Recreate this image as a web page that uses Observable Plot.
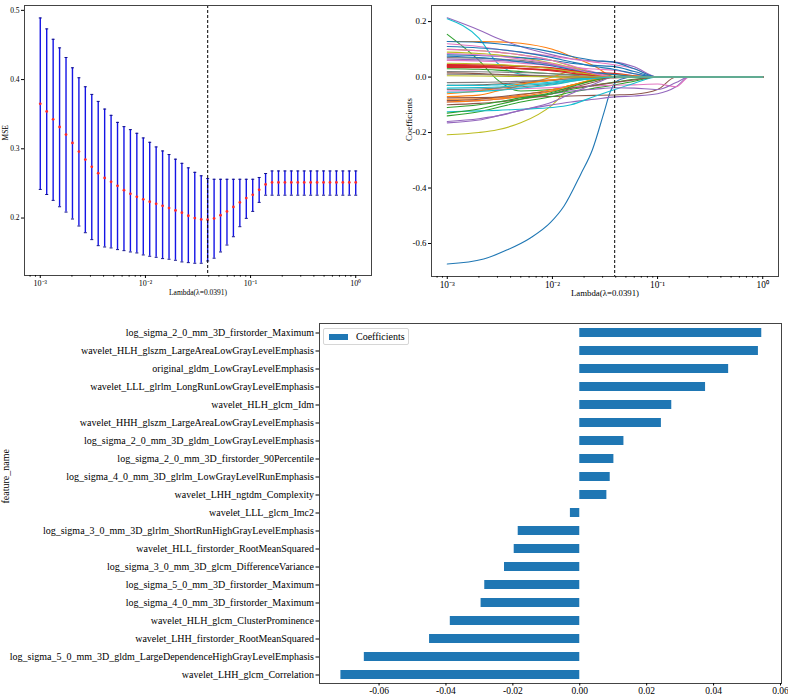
<!DOCTYPE html>
<html><head><meta charset="utf-8">
<script src="https://cdn.jsdelivr.net/npm/d3@7"></script>
<script src="https://cdn.jsdelivr.net/npm/@observablehq/plot@0.6"></script>
<style>
body{margin:0;background:#fff;}
#root{position:relative;width:788px;height:697px;overflow:hidden;background:#fff;font-family:"Liberation Serif","Times New Roman",serif;}
.panel{position:absolute;}
#root svg, #root svg text{font-family:"Liberation Serif","Times New Roman",serif !important;}
#p1 svg{font-size:7.5px !important;}
#p2 svg{font-size:8.8px !important;}
#p3 svg{font-size:10px !important;}
#legend{position:absolute;left:323px;top:328px;width:86px;height:17px;border:1px solid #d6d6d6;border-radius:2px;background:#fff;box-sizing:border-box;font-size:10px;color:#000;}
#legend .sw{position:absolute;left:5px;top:4.5px;width:19px;height:6.5px;background:#1f77b4;}
#legend .lb{position:absolute;left:32px;top:1px;line-height:13px;white-space:nowrap;}
</style></head>
<body><div id="root">
<div class="panel" id="p1" style="left:0;top:0"></div>
<div class="panel" id="p2" style="left:390px;top:0"></div>
<div class="panel" id="p3" style="left:0;top:305px"></div>
<div id="legend"><span class="sw"></span><span class="lb">Coefficients</span></div>
</div>
<script>
// ---------- Panel 1: cross-validated MSE ----------
const lambdas = [0.001,0.0011514,0.0013257,0.0015264,0.0017575,0.0020236,0.00233,0.0026827,0.0030888,0.0035565,
0.0040949,0.0047149,0.0054287,0.0062506,0.0071969,0.0082864,0.009541,0.010985,0.012649,0.014563,
0.016768,0.019307,0.02223,0.025595,0.029471,0.033932,0.039069,0.044984,0.051795,0.059636,
0.068665,0.07906,0.09103,0.10481,0.12068,0.13895,0.15999,0.18421,0.2121,0.24421,
0.28118,0.32375,0.37276,0.42919,0.49417,0.56899,0.65513,0.75431,0.86851,1];
const mseMean = [0.365,0.354,0.3426,0.3315,0.3205,0.3085,0.296,0.2845,0.274,0.2648,
0.258,0.2523,0.2465,0.2403,0.235,0.2307,0.227,0.2235,0.2206,0.2177,
0.2144,0.211,0.2077,0.2033,0.2,0.198,0.1976,0.1995,0.204,0.2096,
0.216,0.2226,0.2288,0.2336,0.2408,0.2485,0.2514,0.2514,0.2514,0.2514,
0.2514,0.2514,0.2514,0.2514,0.2514,0.2514,0.2514,0.2514,0.2514,0.2514];
const mseUpper = [0.489,0.4732,0.4582,0.4458,0.4319,0.417,0.4026,0.3896,0.3786,0.3685,
0.3574,0.3483,0.3382,0.332,0.3277,0.3224,0.3157,0.3094,0.3027,0.2969,
0.2917,0.285,0.279,0.2725,0.266,0.261,0.257,0.256,0.256,0.256,
0.256,0.256,0.256,0.256,0.2586,0.2643,0.268,0.268,0.268,0.268,
0.268,0.268,0.268,0.268,0.268,0.268,0.268,0.268,0.268,0.268];
const mseLower = [0.2413,0.234,0.2255,0.2163,0.2086,0.1986,0.1885,0.1788,0.1688,0.1601,
0.1582,0.1568,0.1544,0.1529,0.151,0.1496,0.1467,0.1448,0.1433,0.1414,
0.1405,0.139,0.1366,0.1356,0.1347,0.1347,0.138,0.142,0.151,0.161,
0.173,0.1875,0.1995,0.2096,0.2226,0.233,0.233,0.233,0.233,0.233,
0.233,0.233,0.233,0.233,0.233,0.233,0.233,0.233,0.233,0.233];
const bestLambda = 0.0391;
const lambdaLabel = "Lambda(λ=0.0391)";

// ---------- Panel 2: coefficient paths ----------
const pathLambda = [0.001,0.002,0.003,0.005,0.01,0.015,0.025,0.0391,0.06,0.1,0.15,0.2,1];
const bigPathLambda = [0.001,0.00222,0.00372,0.00617,0.00955,0.0129,0.0186,0.024,0.0309,0.0355,0.0391,0.0447,0.06,1];
const bigPathCoef = [-0.674,-0.656,-0.623,-0.58,-0.525,-0.465,-0.35,-0.262,-0.128,-0.053,-0.0225,-0.008,0,0];
const pathCoefs = [
[0.128,0.128,0.127,0.122,0.1,0.075,0.04,0,0,0,0,0,0],
[0.154,0.06,-0.01,-0.05,-0.045,-0.03,-0.01,0,0,0,0,0,0],
[0.042,0.041,0.04,0.038,0.032,0.024,0.01,0,0,0,0,0,0],
[0.214,0.17,0.14,0.11,0.08,0.066,0.058,0.054,0.037,0,0,0,0],
[-0.075,-0.074,-0.073,-0.072,-0.07,-0.068,-0.066,-0.0644,-0.062,-0.045,0,0,0],
[0.12,0.11,0.1,0.09,0.075,0.065,0.054,0.0445,0.03,0,0,0,0],
[0.07,0.068,0.065,0.06,0.045,0.03,0.012,0,0,0,0,0,0],
[-0.208,-0.2,-0.19,-0.165,-0.1,-0.035,-0.008,0,0,0,0,0,0],
[0.21,0.14,0.05,0.01,0,0,0,0,0,0,0,0,0],
[0.128,0.125,0.12,0.11,0.09,0.075,0.06,0.053,0.03,0,0,0,0],
[-0.08,-0.078,-0.075,-0.065,-0.045,-0.03,-0.012,0,0,0,0,0,0],
[-0.14,-0.125,-0.11,-0.09,-0.07,-0.055,-0.04,-0.0284,-0.015,0,0,0,0],
[0.04,0.038,0.036,0.032,0.025,0.02,0.016,0.0132,0.005,0,0,0,0],
[-0.165,-0.155,-0.14,-0.12,-0.1,-0.09,-0.08,-0.0714,-0.068,-0.06,-0.035,0,0],
[-0.1,-0.095,-0.09,-0.08,-0.06,-0.04,-0.018,0,0,0,0,0,0],
[-0.05,-0.048,-0.045,-0.042,-0.038,-0.035,-0.032,-0.0295,-0.028,-0.025,-0.035,0,0],
[0.01,0.009,0.008,0.007,0.005,0.003,0.001,0,0,0,0,0,0],
[0.09,0.085,0.08,0.07,0.05,0.035,0.015,0,0,0,0,0,0],
[-0.125,-0.122,-0.12,-0.116,-0.11,-0.1,-0.07,-0.0449,-0.022,0,0,0,0],
[0.08,0.078,0.075,0.07,0.06,0.05,0.042,0.0376,0.02,0,0,0,0],
[-0.07,-0.065,-0.05,-0.03,0,0.02,0.015,0,0,0,0,0,0],
[0.03,0.028,0.025,0.02,0.012,0.01,0.009,0.0081,0.003,0,0,0,0],
[0.035,0.034,0.033,0.03,0.025,0.018,0.008,0,0,0,0,0,0],
[-0.09,-0.085,-0.08,-0.07,-0.06,-0.05,-0.044,-0.0387,-0.04,-0.045,-0.02,0,0],
[-0.03,-0.028,-0.025,-0.02,-0.012,-0.006,-0.002,0,0,0,0,0,0],
[0.06,0.058,0.055,0.05,0.042,0.035,0.029,0.0244,0.012,0,0,0,0],
[-0.02,-0.019,-0.018,-0.015,-0.01,-0.006,-0.002,0,0,0,0,0,0],
[0.1,0.095,0.09,0.08,0.06,0.04,0.015,0,0,0,0,0,0],
[-0.03,-0.03,-0.028,-0.025,-0.018,-0.01,-0.003,0,0,0,0,0,0],
[0.11,0.105,0.1,0.09,0.07,0.055,0.038,0.0275,0.012,0,0,0,0],
[-0.06,-0.05,-0.04,-0.025,-0.01,0,0.006,0.0102,0.004,0,0,0,0],
[-0.11,-0.1,-0.09,-0.075,-0.06,-0.045,-0.03,-0.0184,-0.008,0,0,0,0],
[0.045,0.044,0.043,0.04,0.033,0.025,0.012,0,0,0,0,0,0],
[0.065,0.062,0.06,0.055,0.045,0.032,0.014,0,0,0,0,0,0],
[-0.085,-0.08,-0.072,-0.062,-0.05,-0.04,-0.03,-0.0196,-0.01,0,0,0,0],
[0.1,0.095,0.09,0.08,0.06,0.042,0.018,0,0,0,0,0,0],
[-0.045,-0.043,-0.04,-0.035,-0.025,-0.015,-0.005,0,0,0,0,0,0],
[0.05,0.048,0.045,0.04,0.03,0.02,0.008,0,0,0,0,0,0],
[-0.04,-0.038,-0.036,-0.03,-0.022,-0.012,-0.004,0,0,0,0,0,0],
[0.075,0.07,0.065,0.055,0.04,0.028,0.016,0.0091,0.002,0,0,0,0],
[-0.09,-0.085,-0.08,-0.07,-0.05,-0.03,-0.01,0,0,0,0,0,0],
[-0.13,-0.115,-0.1,-0.08,-0.055,-0.035,-0.012,0,0,0,0,0,0],
[0.038,0.037,0.035,0.03,0.022,0.014,0.005,0,0,0,0,0,0],
[-0.16,-0.15,-0.14,-0.12,-0.09,-0.06,-0.025,0,0,0,0,0,0],
[0.015,0.013,0.01,0.006,0.002,0,-0.002,-0.0028,-0.001,0,0,0,0],
[0.085,0.08,0.075,0.065,0.048,0.032,0.012,0,0,0,0,0,0],
[0.02,0.019,0.018,0.016,0.012,0.007,0.002,0,0,0,0,0,0],
[0.005,0.004,0.003,0.002,0.001,0,0,0,0,0,0,0,0],
[-0.055,-0.052,-0.048,-0.04,-0.028,-0.016,-0.005,0,0,0,0,0,0]
];

// ---------- Panel 3: selected feature coefficients ----------
const featureNames = [
"log_sigma_2_0_mm_3D_firstorder_Maximum",
"wavelet_HLH_glszm_LargeAreaLowGrayLevelEmphasis",
"original_gldm_LowGrayLevelEmphasis",
"wavelet_LLL_glrlm_LongRunLowGrayLevelEmphasis",
"wavelet_HLH_glcm_Idm",
"wavelet_HHH_glszm_LargeAreaLowGrayLevelEmphasis",
"log_sigma_2_0_mm_3D_gldm_LowGrayLevelEmphasis",
"log_sigma_2_0_mm_3D_firstorder_90Percentile",
"log_sigma_4_0_mm_3D_glrlm_LowGrayLevelRunEmphasis",
"wavelet_LHH_ngtdm_Complexity",
"wavelet_LLL_glcm_Imc2",
"log_sigma_3_0_mm_3D_glrlm_ShortRunHighGrayLevelEmphasis",
"wavelet_HLL_firstorder_RootMeanSquared",
"log_sigma_3_0_mm_3D_glcm_DifferenceVariance",
"log_sigma_5_0_mm_3D_firstorder_Maximum",
"log_sigma_4_0_mm_3D_firstorder_Maximum",
"wavelet_HLH_glcm_ClusterProminence",
"wavelet_LHH_firstorder_RootMeanSquared",
"log_sigma_5_0_mm_3D_gldm_LargeDependenceHighGrayLevelEmphasis",
"wavelet_LHH_glcm_Correlation"];
const featureCoefs = [0.0544,0.0534,0.0445,0.0376,0.0275,0.0244,0.0132,0.0102,0.0091,0.0081,
-0.0028,-0.0184,-0.0196,-0.0225,-0.0284,-0.0295,-0.0387,-0.0449,-0.0644,-0.0714];
const barTicks = [-0.06,-0.04,-0.02,0,0.02,0.04,0.06];

// ---------- shared axis helpers ----------
const majorTicks = [0.001,0.01,0.1,1];
const majorLabels = ["10⁻³","10⁻²","10⁻¹","10⁰"];
const supFmt = d => majorLabels[majorTicks.indexOf(d)] ?? "";
const minorTicks = [];
for (let e = -4; e <= 0; e++) for (let m = 2; m <= 9; m++) {
  const v = m * Math.pow(10, e);
  if (v > Math.pow(10, -3.15) && v < Math.pow(10, 0.15)) minorTicks.push(v);
}
const xLogDomain = [Math.pow(10, -3.15), Math.pow(10, 0.15)];
const hy = d => (d < 0 ? "-" : "") + Math.abs(d).toFixed(1);
const hy2 = d => (d < -1e-9 ? "-" : "") + Math.abs(d).toFixed(2);
const FONT = "Liberation Serif, Times New Roman, serif";
const capSymbol = {draw(ctx, size) { const r = Math.sqrt(size / Math.PI); ctx.moveTo(-r, 0); ctx.lineTo(r, 0); }};

// Panel 1
const cv = lambdas.map((l, i) => ({lambda: l, mse: mseMean[i], lo: mseLower[i], hi: mseUpper[i]}));
const f1 = 7.5;
const p1 = Plot.plot({
  width: 380, height: 300,
  marginLeft: 24, marginRight: 9, marginTop: 5, marginBottom: 25,
  style: {background: "#fff", color: "#000"},
  x: {type: "log", domain: xLogDomain},
  y: {domain: [0.117, 0.507]},
  marks: [
    Plot.ruleX(cv, {x: "lambda", y1: "lo", y2: "hi", stroke: "#1414e6", strokeWidth: 1.4}),
    Plot.dot(cv, {x: "lambda", y: "lo", symbol: capSymbol, r: 1.5, stroke: "#10108a", strokeWidth: 1}),
    Plot.dot(cv, {x: "lambda", y: "hi", symbol: capSymbol, r: 1.5, stroke: "#10108a", strokeWidth: 1}),
    Plot.dot(cv, {x: "lambda", y: "mse", r: 1.4, fill: "#ff2a2a", stroke: "none"}),
    Plot.ruleX([bestLambda], {stroke: "#000", strokeWidth: 1, strokeDasharray: "3,2"}),
    Plot.frame({stroke: "#444", strokeWidth: 1}),
    Plot.axisY({ticks: [0.2, 0.3, 0.4, 0.5], tickFormat: d => d.toFixed(1), tickSize: 3, tickPadding: 2, label: null, fontSize: f1, fontFamily: FONT}),
    Plot.axisX({ticks: majorTicks, tickFormat: supFmt, tickSize: 3, tickPadding: 2, label: null, fontSize: f1 + 0.5, fontFamily: FONT}),
    Plot.axisX({ticks: minorTicks, tickFormat: () => "", tickSize: 1.6, label: null}),
    Plot.text([lambdaLabel], {text: d => d, frameAnchor: "bottom", dy: 19.5, fontSize: f1, fontFamily: FONT}),
    Plot.text(["MSE"], {text: d => d, frameAnchor: "left", dx: -19, rotate: -90, fontSize: f1, fontFamily: FONT})
  ]
});
document.getElementById("p1").appendChild(p1);

// Panel 2
const paths = [];
bigPathLambda.forEach((l, i) => paths.push({id: 0, lambda: l, coef: bigPathCoef[i]}));
pathCoefs.forEach((row, j) => row.forEach((c, i) => paths.push({id: j + 1, lambda: pathLambda[i], coef: c})));
const ids = d3.range(pathCoefs.length + 1);
const f2 = 8.8;
const p2 = Plot.plot({
  width: 398, height: 300,
  marginLeft: 41, marginRight: 10, marginTop: 5, marginBottom: 24,
  style: {background: "#fff", color: "#000"},
  x: {type: "log", domain: xLogDomain},
  y: {domain: [-0.719, 0.258]},
  color: {type: "ordinal", domain: ids, range: ids.map(i => d3.schemeCategory10[i % 10])},
  marks: [
    Plot.line(paths, {x: "lambda", y: "coef", z: "id", stroke: "id", strokeWidth: 1.1, curve: "monotone-x"}),
    Plot.ruleX([bestLambda], {stroke: "#000", strokeWidth: 1, strokeDasharray: "3,2"}),
    Plot.frame({stroke: "#444", strokeWidth: 1}),
    Plot.axisY({ticks: [-0.6, -0.4, -0.2, 0, 0.2], tickFormat: hy, tickSize: 3, tickPadding: 2, label: null, fontSize: f2, fontFamily: FONT}),
    Plot.axisX({ticks: majorTicks, tickFormat: supFmt, tickSize: 3, tickPadding: 2, label: null, fontSize: f2 + 0.5, fontFamily: FONT}),
    Plot.axisX({ticks: minorTicks, tickFormat: () => "", tickSize: 1.6, label: null}),
    Plot.text([lambdaLabel], {text: d => d, frameAnchor: "bottom", dy: 19, fontSize: f2, fontFamily: FONT}),
    Plot.text(["Coefficients"], {text: d => d, frameAnchor: "left", dx: -22, rotate: -90, fontSize: f2, fontFamily: FONT})
  ]
});
document.getElementById("p2").appendChild(p2);

// Panel 3
const bars = featureNames.map((f, i) => ({feature: f, coef: featureCoefs[i]}));
const f3 = 10;
const p3 = Plot.plot({
  width: 788, height: 392,
  marginLeft: 319, marginRight: 7, marginTop: 18, marginBottom: 14,
  style: {background: "#fff", color: "#000"},
  x: {domain: [-0.0778, 0.0603]},
  y: {type: "band", domain: featureNames, paddingInner: 0.5, paddingOuter: 0.25},
  marks: [
    Plot.barX(bars, {x: "coef", y: "feature", fill: "#1f77b4"}),
    Plot.frame({stroke: "#444", strokeWidth: 1}),
    Plot.axisY({tickSize: 3.5, tickPadding: 2, label: null, fontSize: f3, fontFamily: FONT}),
    Plot.axisX({ticks: barTicks, tickFormat: hy2, tickSize: 2.5, tickPadding: 1, label: null, fontSize: 9.5, fontFamily: FONT}),
    Plot.text(["feature_name"], {text: d => d, frameAnchor: "left", dx: -313.5, rotate: -90, fontSize: f3, fontFamily: FONT})
  ]
});
document.getElementById("p3").appendChild(p3);
</script></body></html>
